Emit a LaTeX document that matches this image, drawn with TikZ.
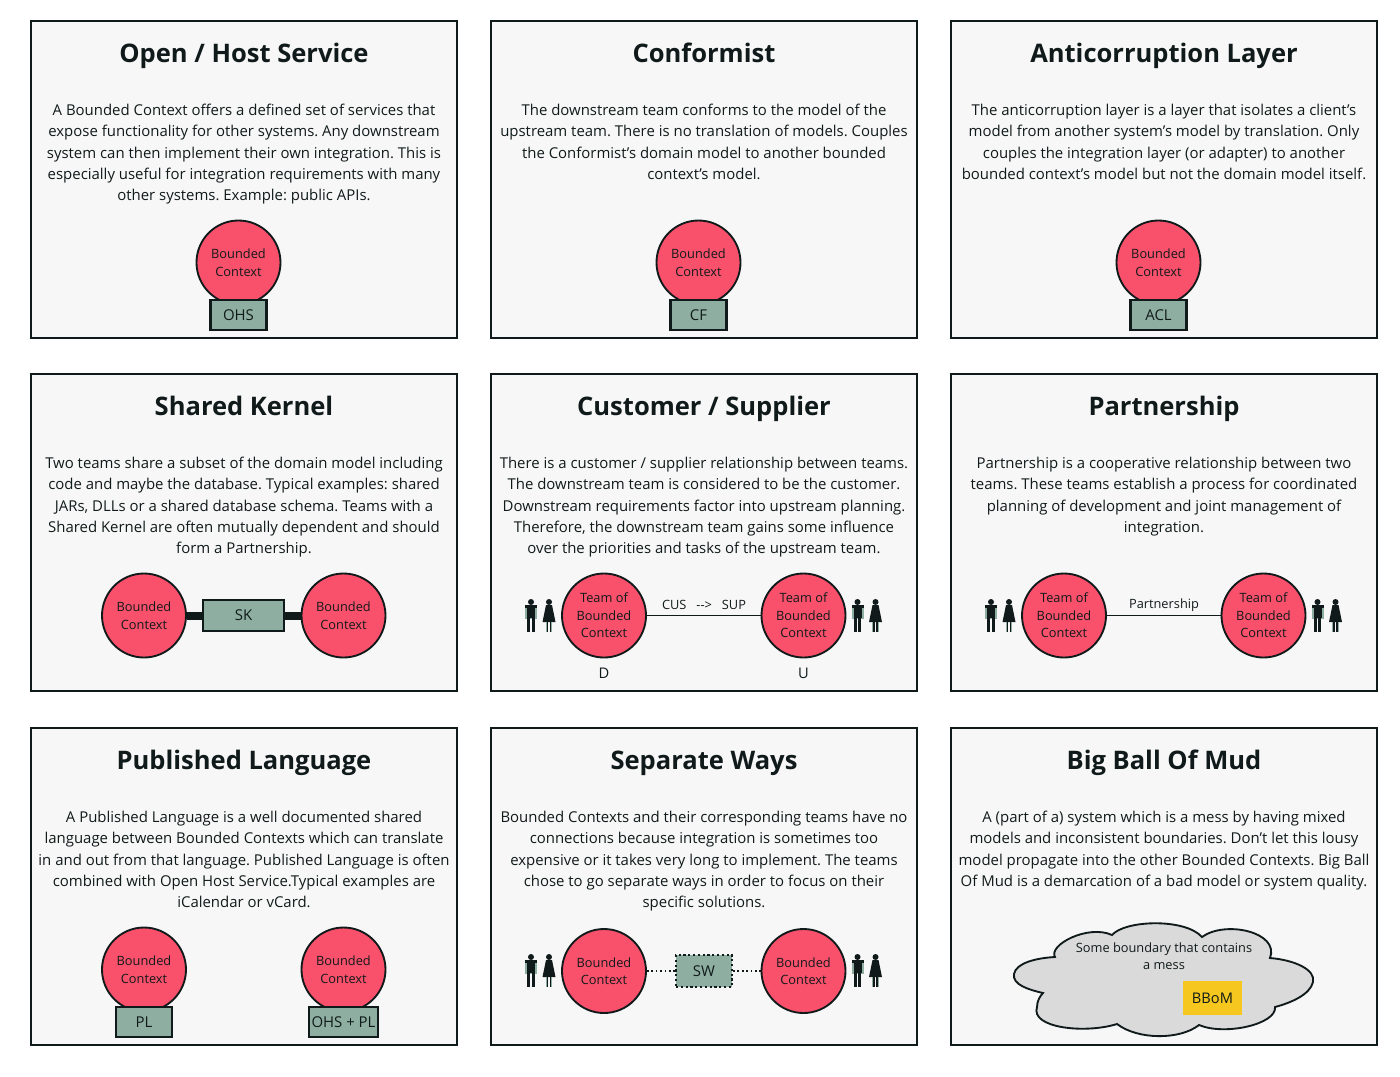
\documentclass[tikz,border=0pt]{standalone}
\usepackage{fontspec}
\setmainfont{Open Sans}
\frenchspacing
\definecolor{panelbg}{HTML}{F7F7F7}
\definecolor{ink}{HTML}{111A1A}
\definecolor{ctxred}{HTML}{F9506C}
\definecolor{sage}{HTML}{8DAEA1}
\definecolor{mud}{HTML}{F5C71F}
\definecolor{cloudgrey}{HTML}{DADADA}
\tikzset{
  x=0.75pt,y=-0.75pt,
  panel/.style={draw=ink,line width=1.5pt,fill=panelbg,minimum width=319.5pt,minimum height=238pt,inner sep=0pt,anchor=north west},
  title/.style={font=\bfseries\fontsize{19.15}{23}\selectfont,text=ink,anchor=base,inner sep=0pt},
  body/.style={font=\fontsize{11.2}{15.9}\selectfont,text=ink,align=center,anchor=north,inner sep=0pt},
  ctx/.style={circle,draw=ink,line width=1.4pt,fill=ctxred,minimum size=63pt,inner sep=0pt,align=center,font=\fontsize{9.6}{13.2}\selectfont,text=ink},
  tag/.style={draw=ink,line width=1.6pt,fill=sage,minimum width=42pt,minimum height=23pt,inner sep=0pt,font=\fontsize{11.2}{13}\selectfont,text=ink},
  lbl/.style={font=\fontsize{9.6}{13}\selectfont,text=ink,inner sep=0pt,align=center},
  letter/.style={font=\fontsize{11}{13}\selectfont,text=ink,inner sep=0pt},
  link/.style={draw=ink,line width=1.3pt},
  figpart/.style={fill=ink,draw=none},
  man/.pic={
    \fill[figpart] (0,-14) circle[radius=3];
    \fill[sage] (-6,-10.5) rectangle (6,3);
    \fill[figpart] (-4,-11) rectangle (4,2);
    \fill[figpart] (-6,-11) rectangle (6,-8.5);
    \fill[figpart] (-3.6,2) rectangle (-0.7,15.5);
    \fill[figpart] (0.7,2) rectangle (3.6,15.5);
  },
  woman/.pic={
    \fill[figpart] (0,-14) circle[radius=3];
    \fill[figpart] (-3,-11) -- (3,-11) -- (6.5,6) -- (-6.5,6) -- cycle;
    \fill[figpart] (-3.2,6) rectangle (-0.8,15.5);
    \fill[figpart] (0.8,6) rectangle (3.2,15.5);
    \fill[sage] (-3.2,6) rectangle (-2.4,15.5);
    \fill[sage] (2.4,6) rectangle (3.2,15.5);
  }
}
\begin{document}
\begin{tikzpicture}
\useasboundingbox (0,0) rectangle (1400,1076);
\fill[white] (0,0) rectangle (1400,1076);
% panels
\node[panel] (p1) at (30,20) {};
\node[panel] (p2) at (490,20) {};
\node[panel] (p3) at (950,20) {};
\node[panel] (p4) at (30,373) {};
\node[panel] (p5) at (490,373) {};
\node[panel] (p6) at (950,373) {};
\node[panel] (p7) at (30,727) {};
\node[panel] (p8) at (490,727) {};
\node[panel] (p9) at (950,727) {};
% titles
\node[title] (t1) at (244,62.7) {Open / Host Service};
\node[title] (t2) at (704,62.7) {Conformist};
\node[title] (t3) at (1164,62.7) {Anticorruption Layer};
\node[title] (t4) at (244,415.7) {Shared Kernel};
\node[title] (t5) at (704,415.7) {Customer / Supplier};
\node[title] (t6) at (1164,415.7) {Partnership};
\node[title] (t7) at (244,769.7) {Published Language};
\node[title] (t8) at (704,769.7) {Separate Ways};
\node[title] (t9) at (1164,769.7) {Big Ball Of Mud};
% bodies
\node[body] (b1) at (244,104) {A Bounded Context offers a defined set of services that\\expose functionality for other systems. Any downstream\\system can then implement their own integration. This is\\especially useful for integration requirements with many\\other systems. Example: public APIs.};
\node[body] (b2) at (704,104) {The downstream team conforms to the model of the\\upstream team. There is no translation of models. Couples\\the Conformist’s domain model to another bounded\\context’s model.};
\node[body] (b3) at (1164,104) {The anticorruption layer is a layer that isolates a client’s\\model from another system’s model by translation. Only\\couples the integration layer (or adapter) to another\\bounded context’s model but not the domain model itself.};
\node[body] (b4) at (244,457) {Two teams share a subset of the domain model including\\code and maybe the database. Typical examples: shared\\JARs, DLLs or a shared database schema. Teams with a\\Shared Kernel are often mutually dependent and should\\form a Partnership.};
\node[body] (b5) at (704,457) {There is a customer / supplier relationship between teams.\\The downstream team is considered to be the customer.\\Downstream requirements factor into upstream planning.\\Therefore, the downstream team gains some influence\\over the priorities and tasks of the upstream team.};
\node[body] (b6) at (1164,457) {Partnership is a cooperative relationship between two\\teams. These teams establish a process for coordinated\\planning of development and joint management of\\integration.};
\node[body] (b7) at (244,811) {A Published Language is a well documented shared\\language between Bounded Contexts which can translate\\in and out from that language. Published Language is often\\combined with Open Host Service.Typical examples are\\iCalendar or vCard.};
\node[body] (b8) at (704,811) {Bounded Contexts and their corresponding teams have no\\connections because integration is sometimes too\\expensive or it takes very long to implement. The teams\\chose to go separate ways in order to focus on their\\specific solutions.};
\node[body] (b9) at (1164,811) {A (part of a) system which is a mess by having mixed\\models and inconsistent boundaries. Don\symbol{39}t let this lousy\\model propagate into the other Bounded Contexts. Big Ball\\Of Mud is a demarcation of a bad model or system quality.};
% row 1
\node[ctx] (c1) at (238.5,262.5) {Bounded\\Context};
\node[tag] (ohs) at (238.5,315) {OHS};
\node[ctx] (c2) at (698.5,262.5) {Bounded\\Context};
\node[tag] (cf) at (698.5,315) {CF};
\node[ctx] (c3) at (1158.5,262.5) {Bounded\\Context};
\node[tag] (acl) at (1158.5,315) {ACL};
% shared kernel
\node[ctx] (sk1) at (144,615.5) {Bounded\\Context};
\node[ctx] (sk2) at (343.5,615.5) {Bounded\\Context};
\node[tag,minimum width=61pt] (sk) at (243.5,615.5) {SK};
\draw[draw=ink,line width=6pt] (sk1) -- (sk);
\draw[draw=ink,line width=6pt] (sk) -- (sk2);
% customer / supplier
\node[ctx] (cs1) at (604,615.5) {Team of\\Bounded\\Context};
\node[ctx] (cs2) at (803.5,615.5) {Team of\\Bounded\\Context};
\draw[link] (cs1) -- (cs2);
\node[lbl] (cslab) at (704,605) {CUS\ \ \ -{}-{}>\ \ \ SUP};
\node[letter] (csd) at (604,673) {D};
\node[letter] (csu) at (803.5,673) {U};
\pic at (531,616) {man};
\pic at (549,616) {woman};
\pic at (857.5,616) {man};
\pic at (875.5,616) {woman};
% partnership
\node[ctx] (pa1) at (1064,615.5) {Team of\\Bounded\\Context};
\node[ctx] (pa2) at (1263.5,615.5) {Team of\\Bounded\\Context};
\draw[link] (pa1) -- (pa2);
\node[lbl] (palab) at (1164,605) {Partnership};
\pic at (991,616) {man};
\pic at (1009,616) {woman};
\pic at (1317.5,616) {man};
\pic at (1335.5,616) {woman};
% published language
\node[ctx] (pl1) at (144,969.5) {Bounded\\Context};
\node[tag] (pl) at (144,1022) {PL};
\node[ctx] (pl2) at (343.5,969.5) {Bounded\\Context};
\node[tag,minimum width=52pt] (ohspl) at (343.5,1022) {OHS + PL};
% separate ways
\node[ctx] (sw1) at (604,971) {Bounded\\Context};
\node[ctx] (sw2) at (803.5,971) {Bounded\\Context};
\node[tag,dotted,minimum height=24pt] (sw) at (704,971) {SW};
\draw[link,dotted] (sw1) -- (sw);
\draw[link,dotted] (sw) -- (sw2);
\pic at (531,971) {man};
\pic at (549,971) {woman};
\pic at (857.5,971) {man};
\pic at (875.5,971) {woman};
% big ball of mud
\draw[draw=ink,line width=1.4pt,fill=cloudgrey]
  (1014,974) .. controls (1016,963) and (1036,958) .. (1055,957)
  .. controls (1048,945) and (1088,924) .. (1112,935)
  .. controls (1125,920) and (1185,918) .. (1202,937)
  .. controls (1225,920) and (1280,932) .. (1270,958)
  .. controls (1295,960) and (1316,970) .. (1313,982)
  .. controls (1310,995) and (1290,1003) .. (1275,1007)
  .. controls (1277,1024) and (1225,1036) .. (1199,1025)
  .. controls (1180,1040) and (1138,1040) .. (1117,1024)
  .. controls (1085,1034) and (1030,1028) .. (1037,1007)
  .. controls (1037,1001) and (1040,996) .. (1043,993)
  .. controls (1030,990) and (1012,985) .. (1014,974) -- cycle;
\node[lbl] (cl) at (1164,956) {Some boundary that contains\\a mess};
\node[fill=mud,minimum width=44pt,minimum height=25pt,inner sep=0pt,font=\fontsize{11}{13}\selectfont,text=ink] (bbom) at (1212.5,998) {BBoM};
\end{tikzpicture}
\end{document}
